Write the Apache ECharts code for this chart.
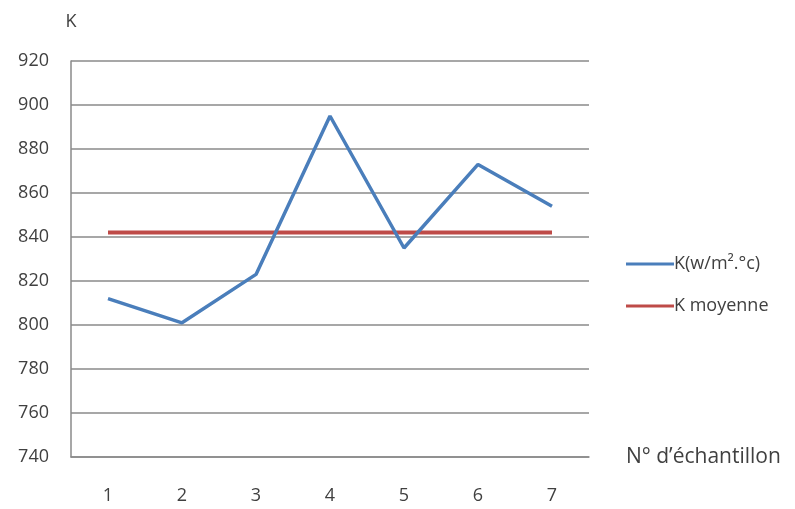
<!DOCTYPE html>
<html>
<head>
<meta charset="utf-8">
<script src="https://cdn.jsdelivr.net/npm/echarts@6/dist/echarts.min.js"></script>
<style>html,body{margin:0;padding:0;background:#fff;}#c{width:795px;height:509px;}</style>
</head>
<body>
<div id="c"></div>
<script>
const categories = ['1', '2', '3', '4', '5', '6', '7'];
const kValues = [812, 801, 823, 895, 835, 873, 854];
const kMoyenne = [842, 842, 842, 842, 842, 842, 842];
const seriesNames = ['K(w/m².°c)', 'K moyenne'];

const chart = echarts.init(document.getElementById('c'));
const txt = { color: '#404040', fontFamily: 'Open Sans', fontSize: 18 };
chart.setOption({
  animation: false,
  backgroundColor: '#fff',
  grid: { left: 71, right: 206, top: 61, bottom: 52 },
  legend: {
    orient: 'vertical', left: 621, top: 249,
    itemWidth: 48, itemHeight: 3, itemGap: 22,
    icon: 'rect',
    textStyle: Object.assign({}, txt, { lineHeight: 20, padding: [0, 0, 0, -5] }),
    data: seriesNames
  },
  xAxis: {
    type: 'category', data: categories, boundaryGap: true,
    name: "N° d’échantillon", nameLocation: 'end', nameGap: 37,
    nameTextStyle: Object.assign({}, txt, { align: 'left', verticalAlign: 'middle', padding: [0, 0, 8, 0], fontSize: 21 }),
    axisLine: { show: true, lineStyle: { color: '#8a8a8a', width: 1.5 } },
    axisTick: { show: false },
    axisLabel: Object.assign({}, txt, { margin: 30 }),
    splitLine: { show: false }
  },
  yAxis: {
    type: 'value', min: 740, max: 920, interval: 20,
    name: 'K', nameLocation: 'end', nameGap: 30,
    nameTextStyle: Object.assign({}, txt, { align: 'center' }),
    axisLine: { show: true, lineStyle: { color: '#8a8a8a', width: 1.5 } },
    axisTick: { show: false },
    axisLabel: Object.assign({}, txt, { margin: 22 }),
    splitLine: { show: true, lineStyle: { color: '#8a8a8a', width: 1.5 } }
  },
  series: [
    {
      name: seriesNames[0], type: 'line', data: kValues,
      symbol: 'none', z: 3,
      lineStyle: { color: '#4a7ebb', width: 3.5 },
      itemStyle: { color: '#4a7ebb' }
    },
    {
      name: seriesNames[1], type: 'line', data: kMoyenne,
      symbol: 'none', z: 2,
      lineStyle: { color: '#be4b48', width: 4 },
      itemStyle: { color: '#be4b48' }
    }
  ]
});
</script>
</body>
</html>
